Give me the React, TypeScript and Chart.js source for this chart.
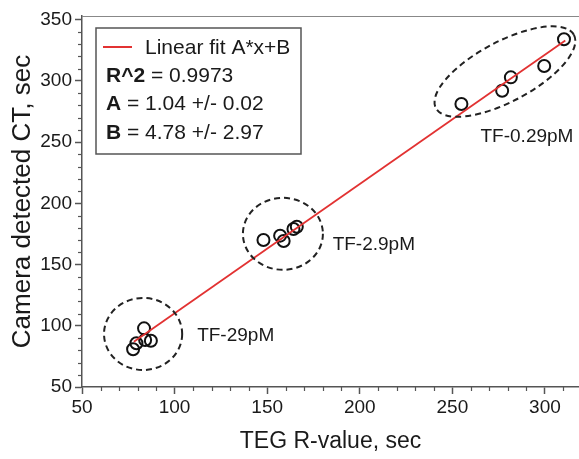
import React, { useEffect, useRef } from 'react';
import { Chart, registerables } from 'chart.js';

Chart.register(...registerables);

// ---- data ----
const tegX = [77.6, 79.4, 83.5, 84.1, 87.2, 148, 157, 158.9, 164.2, 166, 254.9, 276.9, 281.6, 299.6, 310.3];
const cameraY = [80.8, 85.7, 97.9, 88.4, 87.8, 170.1, 173.6, 169.2, 179.0, 180.9, 281.1, 292.0, 302.9, 312.2, 334.0];
const fitX = [78, 311];
const fitY = [87, 333];

const groupNames = ['TF-29pM', 'TF-2.9pM', 'TF-0.29pM'];
const groupLabelX = [133, 207.6, 290.3];
const groupLabelY = [92, 166, 254.2];
const groupCx = [83, 158.5, 278.4];
const groupCy = [93.3, 175.1, 307.6];
const groupRx = [21.1, 21.6, 42.2];
const groupRy = [29.4, 29.4, 24.5];
const groupAngle = [0, 0, -28];

const legendTitle = 'Linear fit A*x+B';
const legendBold = ['R^2', 'A', 'B'];
const legendRest = [' = 0.9973', ' = 1.04 +/- 0.02', ' = 4.78 +/- 2.97'];

const xTitle = 'TEG R-value, sec';
const yTitle = 'Camera detected CT, sec';

const FONT = "'Liberation Sans', Arial, Helvetica, sans-serif";
const AXIS = '#555';
const TEXT = '#1a1a1a';
const RED = 'rgb(226, 50, 50)';

const overlay = {
  id: 'overlay',
  afterDatasetsDraw(chart: any) {
    const { ctx, scales } = chart;
    const x = scales.x;
    const y = scales.y;
    const xPer = Math.abs(x.getPixelForValue(100) - x.getPixelForValue(0)) / 100;
    const yPer = Math.abs(y.getPixelForValue(100) - y.getPixelForValue(0)) / 100;
    ctx.save();
    ctx.strokeStyle = '#222';
    ctx.lineWidth = 2;
    ctx.setLineDash([6, 4]);
    for (let i = 0; i < groupCx.length; i++) {
      ctx.beginPath();
      ctx.ellipse(
        x.getPixelForValue(groupCx[i]),
        y.getPixelForValue(groupCy[i]),
        groupRx[i] * xPer,
        groupRy[i] * yPer,
        (groupAngle[i] * Math.PI) / 180,
        0,
        Math.PI * 2
      );
      ctx.stroke();
    }
    ctx.setLineDash([]);
    ctx.fillStyle = TEXT;
    ctx.font = `19px ${FONT}`;
    ctx.textAlign = 'center';
    ctx.textBaseline = 'middle';
    for (let i = 0; i < groupNames.length; i++) {
      ctx.fillText(groupNames[i], x.getPixelForValue(groupLabelX[i]), y.getPixelForValue(groupLabelY[i]));
    }
    ctx.restore();
  },
  afterDraw(chart: any) {
    const { ctx, chartArea, scales } = chart;
    const x = scales.x;
    const y = scales.y;
    ctx.save();
    ctx.strokeStyle = '#888';
    ctx.lineWidth = 1;
    ctx.beginPath();
    ctx.moveTo(chartArea.left, chartArea.top + 0.5);
    ctx.lineTo(chartArea.right, chartArea.top + 0.5);
    ctx.stroke();
    ctx.strokeStyle = AXIS;
    ctx.lineWidth = 1.2;
    for (let v = 60; v < x.max; v += 10) {
      if (v % 50 === 0) continue;
      const px = Math.round(x.getPixelForValue(v)) + 0.5;
      ctx.beginPath();
      ctx.moveTo(px, chartArea.bottom);
      ctx.lineTo(px, chartArea.bottom + 4);
      ctx.stroke();
    }
    for (let v = 60; v < y.max; v += 10) {
      if (v % 50 === 0) continue;
      const py = Math.round(y.getPixelForValue(v)) + 0.5;
      ctx.beginPath();
      ctx.moveTo(chartArea.left - 4, py);
      ctx.lineTo(chartArea.left, py);
      ctx.stroke();
    }
    const bx = chartArea.left + 14;
    const by = chartArea.top + 12;
    const bw = 205;
    const bh = 126;
    ctx.fillStyle = '#fff';
    ctx.fillRect(bx, by, bw, bh);
    ctx.strokeStyle = '#555';
    ctx.lineWidth = 1.5;
    ctx.strokeRect(bx, by, bw, bh);
    ctx.strokeStyle = RED;
    ctx.lineWidth = 2;
    ctx.beginPath();
    ctx.moveTo(bx + 7, by + 19);
    ctx.lineTo(bx + 36, by + 19);
    ctx.stroke();
    ctx.fillStyle = TEXT;
    ctx.textBaseline = 'middle';
    ctx.textAlign = 'left';
    ctx.font = `21px ${FONT}`;
    ctx.fillText(legendTitle, bx + 49, by + 20);
    for (let i = 0; i < legendBold.length; i++) {
      const ty = by + 48 + i * 28.5;
      ctx.font = `bold 21px ${FONT}`;
      ctx.fillText(legendBold[i], bx + 10, ty);
      const w = ctx.measureText(legendBold[i]).width;
      ctx.font = `21px ${FONT}`;
      ctx.fillText(legendRest[i], bx + 10 + w, ty);
    }
    ctx.restore();
  },
};

export default function App() {
  const ref = useRef<HTMLCanvasElement | null>(null);
  useEffect(() => {
    if (!ref.current) return;
    const chart = new Chart(ref.current, {
      type: 'scatter',
      data: {
        datasets: [
          {
            type: 'line',
            label: 'fit',
            data: fitX.map((v, i) => ({ x: v, y: fitY[i] })),
            borderColor: RED,
            borderWidth: 1.8,
            pointRadius: 0,
            fill: false,
          } as any,
          {
            label: 'points',
            data: tegX.map((v, i) => ({ x: v, y: cameraY[i] })),
            pointStyle: 'circle',
            pointRadius: 6,
            pointBorderWidth: 2,
            borderColor: '#111',
            backgroundColor: 'rgba(0,0,0,0)',
            clip: false,
          } as any,
        ],
      },
      options: {
        responsive: false,
        animation: false,
        devicePixelRatio: 1,
        layout: { autoPadding: false, padding: { left: 0, right: 0, top: 16, bottom: 0 } },
        plugins: { legend: { display: false }, tooltip: { enabled: false } },
        scales: {
          x: {
            type: 'linear',
            min: 50,
            max: 318.4,
            ticks: {
              stepSize: 50,
              includeBounds: false,
              autoSkip: false,
              maxRotation: 0,
              padding: 2,
              color: TEXT,
              font: { family: FONT, size: 19 },
            },
            grid: { drawOnChartArea: false, tickLength: 7, tickColor: AXIS, tickWidth: 1.5 },
            border: { color: AXIS, width: 1.5 },
            title: {
              display: true,
              text: xTitle,
              color: TEXT,
              font: { family: FONT, size: 23 },
              padding: { top: 0, bottom: 4 },
            },
            afterFit: (s: any) => {
              s.height = 72;
              s.paddingLeft = 0;
              s.paddingRight = 0;
            },
          },
          y: {
            type: 'linear',
            min: 50,
            max: 353,
            ticks: {
              stepSize: 50,
              includeBounds: false,
              autoSkip: false,
              padding: 3,
              color: TEXT,
              font: { family: FONT, size: 19 },
            },
            grid: { drawOnChartArea: false, tickLength: 7, tickColor: AXIS, tickWidth: 1.5 },
            border: { color: AXIS, width: 1.5 },
            title: {
              display: true,
              text: yTitle,
              color: TEXT,
              font: { family: FONT, size: 26 },
              padding: { top: 7, bottom: 0 },
            },
            afterFit: (s: any) => {
              s.width = 82;
              s.paddingTop = 0;
              s.paddingBottom = 0;
            },
          },
        },
      },
      plugins: [overlay],
    });
    return () => chart.destroy();
  }, []);
  return (
    <div style={{ position: 'fixed', left: 0, top: 0, width: 579, height: 459, background: '#fff' }}>
      <canvas ref={ref} width={579} height={459} style={{ display: 'block' }} />
    </div>
  );
}
